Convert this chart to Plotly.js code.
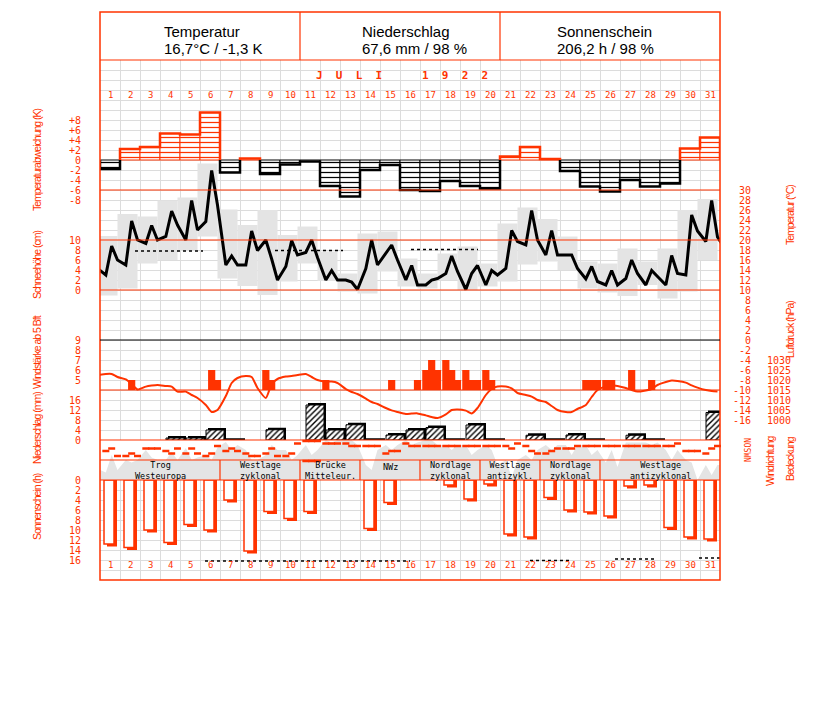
<!DOCTYPE html>
<html><head><meta charset="utf-8">
<script src="https://cdn.plot.ly/plotly-3.0.1.min.js"></script>
<style>body{margin:0;background:#fff}</style>
</head><body><div id="chart" style="width:827px;height:702px"></div>
<script>
// ---------------- DATA (Juli 1922) ----------------
const days = Array.from({length:31},(_,i)=>i+1);
const obsHours = [7,14,21];

// daily temperature anomaly (K)
const anomaly = [-1.8,2.2,2.6,5.3,5.1,9.5,-2.5,0.3,-2.8,-0.9,-0.3,-5.2,-7.3,-2.0,-1.0,-6.0,-6.2,-4.2,-5.2,-5.7,0.7,2.6,0.2,-2.2,-5.3,-6.3,-4.0,-5.3,-4.7,2.3,4.5];

// temperature at 7, 14, 21 h (°C)
const tempObs = [
 13.0,18.8,16.0, 15.0,23.8,20.0, 19.3,22.9,20.0, 20.7,25.8,23.0, 20.0,27.9,22.0,
 23.7,33.9,27.0, 15.0,16.8,15.0, 15.0,21.8,17.9, 20.0,16.2,12.0, 14.7,19.9,17.0,
 17.5,20.0,16.5, 12.0,13.9,12.0, 12.0,11.6,10.1, 14.3,20.0,15.0, 17.3,19.0,16.0,
 12.0,14.9,11.0, 11.0,12.0,12.3, 13.3,16.8,13.7, 10.1,13.3,14.9, 11.0,13.9,13.0,
 14.3,21.9,19.7, 19.0,25.9,20.0, 17.0,21.9,17.0, 17.0,17.0,14.3, 12.2,14.7,11.7,
 11.0,13.9,11.0, 12.3,16.0,13.3, 11.0,13.9,12.7, 11.0,16.9,13.3, 13.0,25.0,21.8,
 19.7,27.9,20.6];
const tempLeadIn = 14.3, tempLeadOut = 18.0;

// daily min / max temperature (°C)
const tMin = [8.9,10.3,15.3,16.0,17.8,20.7,12.3,10.8,9.0,11.7,15.3,11.8,9.7,9.3,13.7,10.7,10.3,12.0,10.0,10.7,11.7,15.1,15.7,14.0,10.3,9.5,8.8,11.0,8.3,9.7,16.0];
const tMax = [20.8,25.2,24.7,27.9,28.5,35.3,26.1,23.0,26.0,21.0,22.7,17.7,13.3,21.3,21.7,16.3,13.3,17.3,18.7,15.3,23.3,26.5,24.2,20.7,15.7,15.3,18.3,15.7,18.3,26.0,28.2];

// dotted reference temperature segments (start day, end day, °C)
const tempRefStart = [2.25, 9.25, 16.05];
const tempRefEnd   = [5.65, 12.65, 19.4];
const tempRefVal   = [17.8, 17.9, 18.1];

// snow depth (cm) – none in July
const snowDepth = [];

// air pressure at 7, 14, 21 h (hPa)
const pressure = [
 1023,1023,1021.5, 1020.3,1018,1015.3, 1016.7,1017.2,1017.5, 1017,1016.7,1014.2, 1014.2,1012.5,1011,
 1007.5,1004,1005, 1012,1018.5,1021, 1022,1021.5,1016, 1011,1018,1020.5, 1021.7,1022,1022.5,
 1023,1021.5,1020, 1019.2,1019.2,1018.5, 1015.5,1014,1013, 1010.7,1009,1008, 1006,1004.8,1004,
 1003,1003.2,1003.3, 1002.3,1001.5,1001, 1002.8,1005,1005.3, 1004.7,1003.3,1006, 1012.5,1015.5,1016.7,
 1016.7,1015.8,1013.5, 1012.5,1011.7,1010, 1009,1007,1005, 1004,1004,1005.5, 1007.5,1011.5,1015,
 1016.8,1017.4,1017, 1016,1015,1014.2, 1014.8,1015.5,1017.5, 1019,1019.7,1019.5, 1018.7,1017.3,1016.2,
 1015,1014.5,1014.3];
const pressureLeadIn = 1022.5;

// wind force (Bft) at 7, 14, 21 h, only values >= 5 (0 = below 5)
const windBft = [
 0,0,0, 0,5,0, 0,0,0, 0,0,0, 0,0,0, 0,6,5, 0,0,0, 0,0,0, 6,5,0, 0,0,0,
 0,0,0, 5,0,0, 0,0,0, 0,0,0, 0,5,0, 0,0,5, 6,7,6, 7,6,5, 6,5,5, 6,5,0,
 0,0,0, 0,0,0, 0,0,0, 0,0,0, 5,5,5, 5,5,0, 0,6,0, 0,5,0, 0,0,0, 0,0,0, 0,0,0];

// daily precipitation (mm) and days with traces only
const precip = [0,0,0,0.8,0.8,4.0,0,0,4.1,0,14.0,4.0,6.1,0,2.0,4.0,5.0,0,6.0,0,0,1.9,0,2.0,0,0,1.9,0,0,0,11.0];
const precipTraceDays = [7,14,18,20,23,25,28];

// wind direction at 7, 14, 21 h (degrees, 0 = N)
const windDir = [
 180,135,270, 270,225,270, 135,135,135, 180,225,135, 225,135,225, 270,225,90, 180,135,180,
 225,270,270, 225,135,270, 270,225,45, 0,0,0, 45,45,45, 45,90,90, 90,90,90, 225,180,180,
 45,90,90, 90,90,90, 90,90,90, 90,90,90, 90,90,90, 90,135,45, 90,180,225, 225,180,135,
 135,135,90, 90,90,90, 90,90,90, 90,90,90, 90,90,90, 90,90,45, 180,180,180, 225,135,90];

// cloud cover at 7, 14, 21 h (octas)
const cloud = [
 1.5,5,2, 4,3.5,4, 6,4.5,4, 4,5.6,4, 6.4,4,4.5, 5,4,6.5, 7.6,6,7, 6,4,4, 5,7,6, 6,4,5,
 7,5,6, 8,7.5,8, 8,8,7, 3,2,6, 7,6,7, 8,7,7.5, 8,8,7, 7,6,7, 7,5,6, 7,6,3,
 4,0.5,4, 5,4,6, 7,6,7, 7,5,7, 7,5,6, 3.5,6,2.6, 7.5,7.5,7.5, 7.5,7,7.5, 6,4,6, 4,3.5,0, 3,1,3];
const cloudLeadIn = 2, cloudLeadOut = 3;

// daily sunshine duration (h)
const sunshine = [12.8,13.5,10.0,12.5,8.9,10.0,4.0,14.2,6.3,7.7,6.3,0,0,9.7,4.5,0,0,1.0,3.8,0.8,10.8,11.4,3.5,6.0,6.4,7.2,1.2,1.0,9.5,11.4,11.8];
const sunRefStart = [5.75, 22.0, 26.25, 30.45];
const sunRefEnd   = [16.0, 24.1, 28.3, 31.5];
const sunRefVal   = [16.2, 16.1, 15.8, 15.6];

// weather types (Großwetterlagen)
const wtLine1 = ['Trog','Westlage','Brücke','NWz','Nordlage','Westlage','Nordlage','Westlage'];
const wtLine2 = ['Westeuropa','zyklonal','Mitteleur.','','zyklonal','antizykl.','zyklonal','antizyklonal'];
const wtStart = [1,7,11,14,17,20,23,26];
const wtEnd   = [6,10,13,16,19,22,25,31];

// header
const headTitles = ['Temperatur','Niederschlag','Sonnenschein'];
const headValues = ['16,7°C / -1,3 K','67,6 mm / 98 %','206,2 h / 98 %'];
const monthLabel = 'JULI 1922';

// tick labels
const anomTicks = [8,6,4,2,0,-2,-4,-6,-8];
const snowTicks = [10,8,6,4,2,0];
const windTicks = [9,8,7,6,5];
const precipTicks = [16,12,8,4,0];
const sunTicks = [0,2,4,6,8,10,12,14,16];
const tempTicks = [30,28,26,24,22,20,18,16,14,12,10,8,6,4,2,0,-2,-4,-6,-8,-10,-12,-14,-16];
const pressTicks = [1030,1025,1020,1015,1010,1005,1000];

// ---------------- STYLE / GEOMETRY ----------------
const RED = '#ff3300', GRID = '#dcdcdc', GRAY = '#e4e4e4';
const MONO = 'DejaVu Sans Mono, monospace';
const SANS = 'Liberation Sans, Arial, sans-serif';
const fy = px => (580 - px) / 568;
const fx = px => (px - 100) / 620;
const DOM_MAIN = [fy(440), fy(60)], DOM_BAND = [fy(480), fy(440)], DOM_SUN = [0, fy(480)];
const NBSP = '\u00a0';
const pad = (s, n) => NBSP.repeat(Math.max(0, n - s.length)) + s;

const obsX = [];
days.forEach(d => obsHours.forEach(h => obsX.push(d - 0.5 + h / 24)));

const data = [];
// gray min-max boxes
data.push({type:'bar', x:days.map(d=>d-0.125), base:tMin, y:tMax.map((v,i)=>v-tMin[i]), width:1,
  marker:{color:GRAY, line:{width:0}}, xaxis:'x', yaxis:'y', hoverinfo:'skip'});
tempRefStart.forEach((s,i)=>data.push({type:'scatter', mode:'lines', x:[s,tempRefEnd[i]], y:[tempRefVal[i],tempRefVal[i]],
  line:{color:'black', width:1.5, dash:'dot'}, xaxis:'x', yaxis:'y', hoverinfo:'skip'}));

// anomaly bars
const posD = days.filter((d,i)=>anomaly[i]>=0), negD = days.filter((d,i)=>anomaly[i]<0);
data.push({type:'bar', x:posD, y:posD.map(d=>anomaly[d-1]), width:1, xaxis:'x', yaxis:'y2', hoverinfo:'skip',
  marker:{color:'white', line:{color:RED,width:1}, pattern:{shape:'-', fgcolor:RED, bgcolor:'white', size:5, solidity:0.25}}});
data.push({type:'bar', x:negD, y:negD.map(d=>anomaly[d-1]), width:1, xaxis:'x', yaxis:'y2', hoverinfo:'skip',
  marker:{color:'white', line:{color:'black',width:1}, pattern:{shape:'-', fgcolor:'black', bgcolor:'white', size:5, solidity:0.25}}});
function stepRuns(positive){
  const xs=[], ys=[]; let i=0;
  while(i<31){
    if((anomaly[i]>=0)===positive){
      let j=i; xs.push(days[i]-0.5); ys.push(0);
      while(j<31 && (anomaly[j]>=0)===positive){ xs.push(days[j]-0.5, days[j]+0.5); ys.push(anomaly[j], anomaly[j]); j++; }
      xs.push(days[j-1]+0.5); ys.push(0); xs.push(null); ys.push(null); i=j;
    } else i++;
  }
  return {xs, ys};
}
const pr = stepRuns(true), nr = stepRuns(false);
data.push({type:'scatter', mode:'lines', x:pr.xs, y:pr.ys, line:{color:RED,width:2.5}, xaxis:'x', yaxis:'y2', hoverinfo:'skip'});
data.push({type:'scatter', mode:'lines', x:nr.xs, y:nr.ys, line:{color:'black',width:2.5}, xaxis:'x', yaxis:'y2', hoverinfo:'skip'});

// temperature line
data.push({type:'scatter', mode:'lines', x:[21/24-0.5].concat(obsX).concat([31.5+7/24]),
  y:[tempLeadIn].concat(tempObs).concat([tempLeadOut]),
  line:{color:'black', width:3}, xaxis:'x', yaxis:'y3', hoverinfo:'skip'});
// snow depth (empty)
data.push({type:'scatter', mode:'lines', x:snowDepth.map((v,i)=>i+1), y:snowDepth, xaxis:'x', yaxis:'y4', hoverinfo:'skip', line:{color:'black'}});

// wind bars
const wIdx = windBft.map((v,i)=>i).filter(i=>windBft[i]>=5);
data.push({type:'bar', x:wIdx.map(i=>obsX[i]), y:wIdx.map(i=>windBft[i]-4), base:4, width:0.36,
  marker:{color:RED, line:{width:0}}, xaxis:'x', yaxis:'y5', hoverinfo:'skip'});
// pressure line
data.push({type:'scatter', mode:'lines', x:[21/24-0.5].concat(obsX), y:[pressureLeadIn].concat(pressure),
  line:{color:RED, width:2, shape:'spline', smoothing:0.6}, xaxis:'x', yaxis:'y6', hoverinfo:'skip'});

// precipitation
const pD = days.filter((d,i)=>precip[i]>0);
data.push({type:'bar', x:pD.map(d=>d+0.35), y:pD.map(d=>precip[d-1]+0.8), width:0.9,
  marker:{color:'black', line:{width:0}}, xaxis:'x', yaxis:'y7', hoverinfo:'skip'});
data.push({type:'bar', x:pD.map(d=>d+0.25), y:pD.map(d=>precip[d-1]), width:0.9,
  marker:{color:'white', line:{color:'black',width:1}, pattern:{shape:'/', fgcolor:'black', bgcolor:'white', size:4, solidity:0.35}},
  xaxis:'x', yaxis:'y7', hoverinfo:'skip'});
data.push({type:'bar', x:precipTraceDays.map(d=>d+0.25), y:precipTraceDays.map(()=>0.7), width:1,
  marker:{color:'black', line:{width:0}}, xaxis:'x', yaxis:'y7', hoverinfo:'skip'});

// cloud cover area
data.push({type:'scatter', mode:'lines', x:[0.5].concat(obsX).concat([31.5]), y:[cloudLeadIn].concat(cloud).concat([cloudLeadOut]),
  fill:'tozeroy', fillcolor:GRAY, line:{width:0, color:GRAY}, xaxis:'x2', yaxis:'y8', hoverinfo:'skip'});
// wind direction dots
const wdx=[], wdy=[];
windDir.forEach((v,i)=>{ wdx.push(obsX[i]); wdy.push(v); if(v===0){ wdx.push(obsX[i]); wdy.push(360);} });
data.push({type:'scatter', mode:'markers', x:wdx, y:wdy, xaxis:'x2', yaxis:'y9', hoverinfo:'skip', cliponaxis:false,
  marker:{symbol:'line-ew', size:5, line:{width:2.5, color:RED}}});

// sunshine bars
const sD = days.filter((d,i)=>sunshine[i]>0);
data.push({type:'bar', x:sD.map(d=>d+0.1), y:sD.map(d=>sunshine[d-1]+0.5), width:0.5,
  marker:{color:RED, line:{width:0}}, xaxis:'x', yaxis:'y10', hoverinfo:'skip'});
data.push({type:'bar', x:sD.map(d=>d-0.05), y:sD.map(d=>sunshine[d-1]), width:0.5,
  marker:{color:'white', line:{color:RED,width:1.5}}, xaxis:'x', yaxis:'y10', hoverinfo:'skip'});
sunRefStart.forEach((s,i)=>data.push({type:'scatter', mode:'lines', x:[s,sunRefEnd[i]], y:[sunRefVal[i],sunRefVal[i]],
  line:{color:'black', width:1.5, dash:'dot'}, xaxis:'x', yaxis:'y10', hoverinfo:'skip'}));

// ---------------- AXES ----------------
const tickFont = {family:MONO, size:10, color:RED};
const leftLab = o => Object.assign({overlaying:'y', side:'left', anchor:'x', showgrid:false, zeroline:false, showline:false,
  ticks:'outside', ticklen:16, tickcolor:'rgba(0,0,0,0)', tickfont:tickFont, tickmode:'array'}, o);
const rightLab = o => Object.assign({overlaying:'y', side:'right', anchor:'x', showgrid:false, zeroline:false, showline:false,
  ticks:'outside', ticklen:10, tickcolor:'rgba(0,0,0,0)', tickfont:tickFont, tickmode:'array'}, o);

const layout = {
  width:827, height:702, margin:{l:100, r:107, t:12, b:122, pad:0},
  paper_bgcolor:'white', plot_bgcolor:'white', showlegend:false, barmode:'overlay',
  font:{family:SANS},
  xaxis:{range:[0.5,31.5], anchor:'y', tick0:0.5, dtick:1, showgrid:true, gridcolor:GRID, gridwidth:1,
    zeroline:false, showline:false, ticks:'', showticklabels:false},
  xaxis2:{range:[0.5,31.5], anchor:'y8', visible:false, showgrid:false},
  yaxis:{domain:DOM_MAIN, anchor:'x', range:[-20,56], tick0:0, dtick:2, showgrid:true, gridcolor:GRID, zeroline:false,
    showticklabels:false, ticks:'', showline:false},
  yaxis2: leftLab({range:[-56,20], tickvals:anomTicks, ticktext:anomTicks.map(v=>v>0?'+'+v:String(v))}),
  yaxis3: rightLab({range:[-20,56], tickvals:tempTicks, ticktext:tempTicks.map(v=>pad(String(v),3))}),
  yaxis4: leftLab({range:[-30,46], tickvals:snowTicks, ticktext:snowTicks.map(String)}),
  yaxis5: leftLab({range:[-1,37], tickvals:windTicks, ticktext:windTicks.map(String)}),
  yaxis6: rightLab({range:[990,1180], tickvals:pressTicks, ticktext:pressTicks.map(String),
    anchor:'free', position:1, autoshift:false, shift:34}),
  yaxis7: leftLab({range:[0,152], tickvals:precipTicks, ticktext:precipTicks.map(String)}),
  yaxis8:{domain:DOM_BAND, range:[0,8], anchor:'x2', visible:false, showgrid:false, zeroline:false},
  yaxis9:{overlaying:'y8', range:[702,-18], anchor:'x2', visible:false, showgrid:false, zeroline:false},
  yaxis10:{domain:DOM_SUN, range:[20,0], anchor:'x', tickmode:'array', tickvals:sunTicks.concat([18]),
    ticktext:sunTicks.map(String).concat(['']), showgrid:true, gridcolor:GRID, zeroline:false, showline:false,
    ticks:'outside', ticklen:16, tickcolor:'rgba(0,0,0,0)', tickfont:tickFont},
  shapes:[], annotations:[]
};

// frame and separators
const S = layout.shapes;
S.push({type:'rect', xref:'paper', yref:'paper', x0:0, x1:1, y0:0, y1:1, line:{color:RED, width:1.5}});
[300,500].forEach(px=>S.push({type:'line', xref:'paper', yref:'paper', x0:fx(px), x1:fx(px), y0:fy(60), y1:1, line:{color:RED,width:1.2}}));
[60,190,240,290,390,440,460,480].forEach(py=>S.push({type:'line', xref:'paper', yref:'paper', x0:0, x1:1, y0:fy(py), y1:fy(py), line:{color:RED,width:1.2}}));
S.push({type:'line', xref:'paper', yref:'paper', x0:0, x1:1, y0:fy(340), y1:fy(340), line:{color:'black',width:1.2}});
wtStart.slice(1).forEach(s=>S.push({type:'line', xref:'x', yref:'paper', x0:s-0.5, x1:s-0.5, y0:fy(480), y1:fy(460), line:{color:RED,width:1.2}}));

// annotations
const A = layout.annotations;
const ann = o => A.push(Object.assign({showarrow:false, xref:'paper', yref:'paper', xanchor:'center', yanchor:'middle'}, o));
[162,360,555].forEach((px,i)=>{
  ann({x:fx(px), y:fy(32), xanchor:'left', text:headTitles[i], font:{family:SANS, size:15, color:'black'}});
  ann({x:fx(px), y:fy(49), xanchor:'left', text:headValues[i], font:{family:SANS, size:15, color:'black'}});
});
ann({x:fx(402), y:fy(75),
  text: monthLabel.split('').map(c=>c===' '?NBSP+NBSP:c).join(NBSP+NBSP), font:{family:MONO, size:11, color:RED, weight:'bold'}});
days.forEach(d=>{
  ann({xref:'x', x:d, y:fy(95), text:String(d), font:{family:MONO,size:9,color:RED}});
  ann({xref:'x', x:d, y:fy(565), text:String(d), font:{family:MONO,size:9,color:RED}});
});
const tight = t => '<span style="letter-spacing:-1px">' + t + '</span>';
const titleFont = {family:SANS, size:10.5, color:RED};
[['Temperaturabweichung (K)',160],['Schneehöhe (cm)',265],['Windstärke ab 5 Bft',352],['Niederschlag (mm)',428],['Sonnenschein (h)',507]]
  .forEach(([t,py])=>ann({x:fx(37), y:fy(py), textangle:-90, text:tight(t), font:titleFont}));
[['Temperatur (°C)',790,215],['Luftdruck (hPa)',790,329],['Windrichtung',770,461],['Bedeckung',790,458]]
  .forEach(([t,px,py])=>ann({x:fx(px), y:fy(py), textangle:-90, text:tight(t), font:titleFont}));
ann({x:fx(747), y:fy(450), textangle:90, text:'NOSWN', font:{family:MONO, size:8, color:RED}});
wtLine1.forEach((t,i)=>{
  const xc = (wtStart[i]+wtEnd[i])/2;
  const txt = wtLine2[i] ? t + '<br>' + wtLine2[i] : t;
  ann({xref:'x', x:xc, y:wtLine2[i] ? fy(470) : fy(466.5), text:txt, font:{family:MONO,size:8.5,color:'black'}});
});

Plotly.newPlot('chart', data, layout, {staticPlot:true, displayModeBar:false});
</script>
</body></html>
